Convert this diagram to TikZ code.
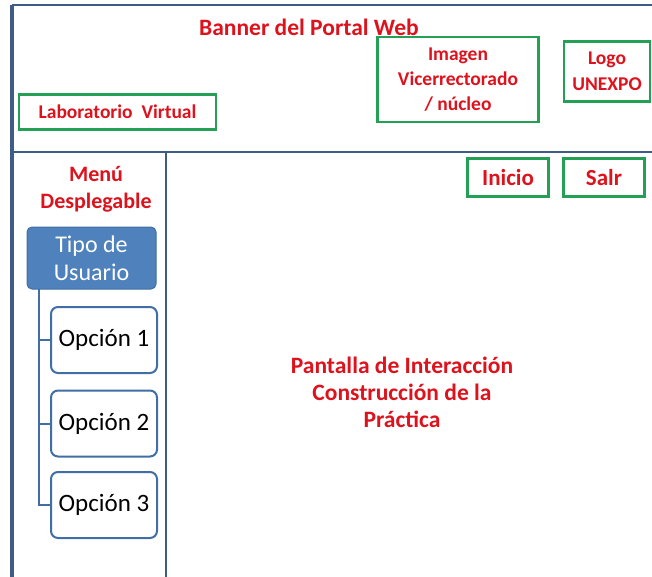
\documentclass[tikz,border=0pt]{standalone}
\usepackage{fontspec}
\setmainfont{Carlito}
\definecolor{frameblue}{RGB}{62,92,134}
\definecolor{boxblue}{RGB}{79,129,189}
\definecolor{boxedge}{RGB}{65,110,165}
\definecolor{txtred}{RGB}{222,18,28}
\definecolor{boxgreen}{RGB}{36,160,84}
\tikzset{
  frame/.style={draw=frameblue, line width=2.6pt},
  greenbox/.style={draw=boxgreen, line width=2.4pt, inner sep=0pt, align=center,
     text=txtred, font=\fontsize{19.5}{25}\selectfont\bfseries},
  redtxt/.style={text=txtred, font=\fontsize{23.5}{27}\selectfont\bfseries, align=center, inner sep=0pt},
  tipobox/.style={draw=boxedge, fill=boxblue, rounded corners=5pt, line width=1pt,
     text=white, font=\fontsize{24}{28}\selectfont, align=center, inner sep=0pt,
     minimum width=129pt, minimum height=62pt},
  optbox/.style={draw=boxedge, fill=white, rounded corners=7pt, line width=2pt,
     text=black, font=\fontsize{25}{28}\selectfont, inner sep=0pt,
     minimum width=106pt, minimum height=66pt},
  link/.style={draw=boxedge, line width=2pt}
}
\begin{document}
\begin{tikzpicture}[x=1pt,y=-1pt]
\useasboundingbox (0,0) rectangle (652,577);
% frame
\coordinate (tl) at (12,5);
\coordinate (tr) at (652,5);
\coordinate (bl) at (12,577);
\coordinate (ml) at (12,152);
\coordinate (mr) at (652,152);
\coordinate (mt) at (166,152);
\coordinate (mb) at (166,577);
\draw[frame] (tr) -- (tl);
\draw[frame, line width=3.4pt] (tl) -- (bl);
\draw[frame] (ml) -- (mr);
\draw[frame] (mt) -- (mb);
% banner
\node[redtxt] (banner) at (309,27) {Banner del Portal Web};
\node[greenbox, minimum width=197pt, minimum height=35pt] (lab) at (117.5,112) {Laboratorio\ \ Virtual};
\node[greenbox, minimum width=161pt, minimum height=85pt] (img) at (458,79.5) {Imagen\\Vicerrectorado\\/ núcleo};
\node[greenbox, minimum width=86pt, minimum height=60pt, font=\fontsize{19.5}{26}\selectfont\bfseries] (logo) at (607,71.5) {Logo\\UNEXPO};
\node[greenbox, minimum width=81pt, minimum height=38pt, font=\fontsize{23}{26}\selectfont\bfseries] (inicio) at (508,177.5) {Inicio};
\node[greenbox, minimum width=81pt, minimum height=38pt, font=\fontsize{23}{26}\selectfont\bfseries] (salir) at (604,177.5) {Salr};
% menu
\node[redtxt, font=\fontsize{22}{27}\selectfont\bfseries] (menu) at (96,189.5) {Menú\\Desplegable};
\node[tipobox] (tipo) at (91.5,258) {Tipo de\\Usuario};
\node[optbox] (op1) at (104,340) {Opción 1};
\node[optbox] (op2) at (104,423.5) {Opción 2};
\node[optbox] (op3) at (104,505) {Opción 3};
\coordinate (trunk) at (39,289);
\draw[link] (trunk) |- (op3.west);
\draw[link] (op1.west -| trunk) -- (op1.west);
\draw[link] (op2.west -| trunk) -- (op2.west);
% main area
\node[redtxt] (main) at (402,392) {Pantalla de Interacción\\Construcción de la\\Práctica};
\end{tikzpicture}
\end{document}
